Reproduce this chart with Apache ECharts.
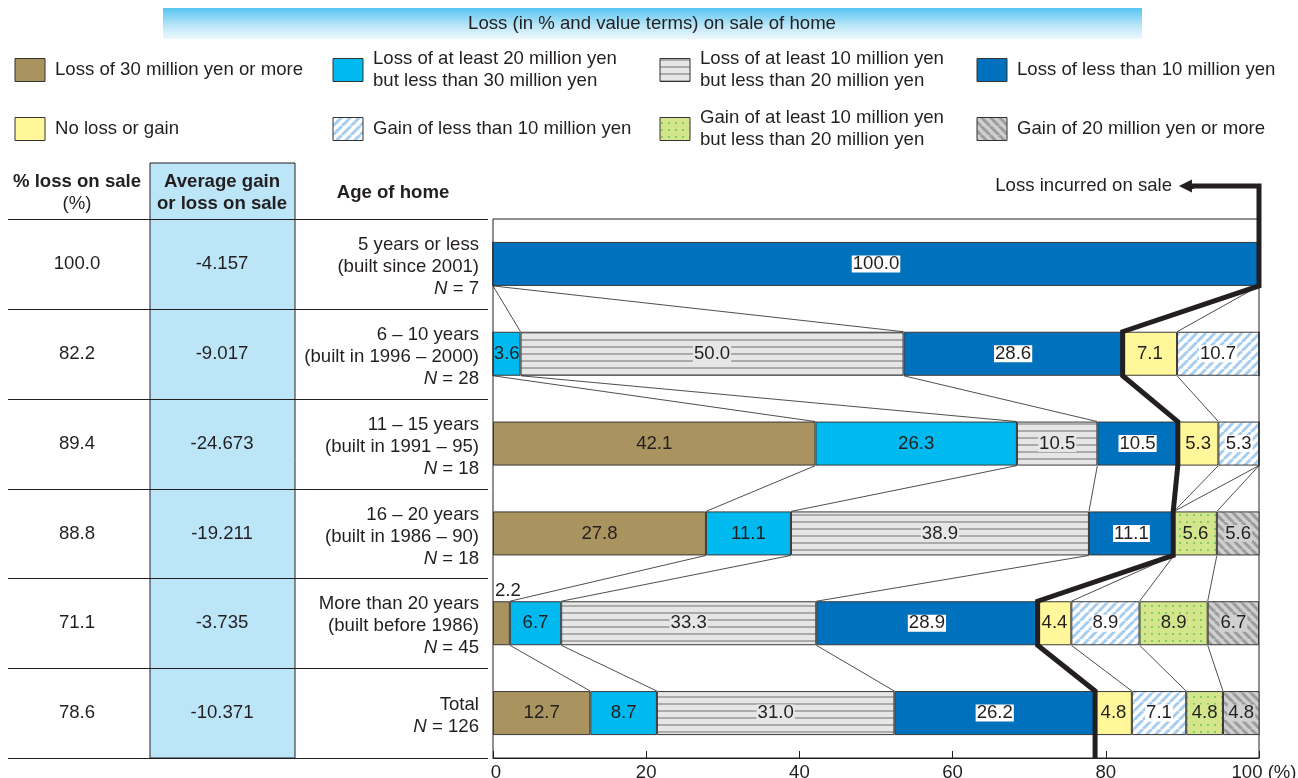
<!DOCTYPE html>
<html><head><meta charset="utf-8">
<script src="https://cdn.jsdelivr.net/npm/echarts@6/dist/echarts.min.js"></script>
<style>html,body{margin:0;padding:0;background:#fff}#c{width:1298px;height:778px}</style>
</head><body><div id="c"></div>
<script>
// ---------- data ----------
const ageCats = ['5 years or less', '6 – 10 years', '11 – 15 years', '16 – 20 years', 'More than 20 years', 'Total'];
const builtNotes = ['(built since 2001)', '(built in 1996 – 2000)', '(built in 1991 – 95)', '(built in 1986 – 90)', '(built before 1986)', ''];
const sampleN = [7, 28, 18, 18, 45, 126];
const lossPct = [100.0, 82.2, 89.4, 88.8, 71.1, 78.6];
const avgGainLoss = [-4.157, -9.017, -24.673, -19.211, -3.735, -10.371];

const loss30plus   = [0, 0, 42.1, 27.8, 2.2, 12.7];
const loss20to30   = [0, 3.6, 26.3, 11.1, 6.7, 8.7];
const loss10to20   = [0, 50.0, 10.5, 38.9, 33.3, 31.0];
const lossUnder10  = [100.0, 28.6, 10.5, 11.1, 28.9, 26.2];
const noLossGain   = [0, 7.1, 5.3, 0, 4.4, 4.8];
const gainUnder10  = [0, 10.7, 5.3, 0, 8.9, 7.1];
const gain10to20   = [0, 0, 0, 5.6, 8.9, 4.8];
const gain20plus   = [0, 0, 0, 5.6, 6.7, 4.8];

const legendNames = [
  'Loss of 30 million yen or more',
  'Loss of at least 20 million yen\nbut less than 30 million yen',
  'Loss of at least 10 million yen\nbut less than 20 million yen',
  'Loss of less than 10 million yen',
  'No loss or gain',
  'Gain of less than 10 million yen',
  'Gain of at least 10 million yen\nbut less than 20 million yen',
  'Gain of 20 million yen or more'
];
const xTicks = [0, 20, 40, 60, 80, 100];
const titleText = 'Loss (in % and value terms) on sale of home';

// ---------- styling helpers ----------
const FONT = '"Liberation Sans", Arial, sans-serif';
const FS = 18.6;
const INK = '#231f20';
function pat(w, h, bg, draw) {
  const c = document.createElement('canvas'); c.width = w; c.height = h;
  const g = c.getContext('2d'); g.fillStyle = bg; g.fillRect(0, 0, w, h); draw(g);
  return { image: c, repeat: 'repeat' };
}
const stripeGray = pat(8, 7, '#e6e6e6', g => { g.fillStyle = '#ababab'; g.fillRect(0, 3, 8, 2); });
const hatchBlue = pat(9, 9, '#ffffff', g => { g.strokeStyle = '#a6cdee'; g.lineWidth = 3; [-9, 0, 9].forEach(o => { g.beginPath(); g.moveTo(o, 9); g.lineTo(o + 9, 0); g.stroke(); }); });
const hatchGray = pat(9, 9, '#cfcfcf', g => { g.strokeStyle = '#9c9c9c'; g.lineWidth = 3; [-9, 0, 9].forEach(o => { g.beginPath(); g.moveTo(o, 0); g.lineTo(o + 9, 9); g.stroke(); }); });
const dotGreen = pat(7, 7, '#d4e68c', g => { g.fillStyle = '#86cb66'; g.fillRect(3, 3, 2, 2); });

const segData = [loss30plus, loss20to30, loss10to20, lossUnder10, noLossGain, gainUnder10, gain10to20, gain20plus];
const segFill = ['#a9935e', '#00b9ef', stripeGray, '#0071bc', '#fff799', hatchBlue, dotGreen, hatchGray];
const segLabelBg = [null, null, '#e6e6e6', '#ffffff', null, '#ffffff', '#d4e68c', '#d0d0d0'];

// ---------- geometry ----------
const G = { left: 493, right: 39, top: 219, bottom: 20 };
const band = (778 - G.top - G.bottom) / ageCats.length;
const half = 0.245; // half bar thickness in band units (barWidth 49%)

// cumulative boundaries
const cum = ageCats.map((_, i) => { let s = 0; return segData.map(arr => (s += arr[i])); });
const links = [];
for (let i = 0; i < ageCats.length - 1; i++) {
  for (let k = 0; k < segData.length - 1; k++) {
    const a = cum[i][k], b = cum[i + 1][k];
    if ((a <= 0 && b <= 0) || (a >= 100 && b >= 100)) continue;
    links.push({ coords: [[a, i + 0.5 + half], [b, i + 1.5 - half]] });
  }
}
const arrowY = (186 - G.top) / band;
const lossLine = [[91, arrowY], [100, arrowY]];
lossPct.forEach((v, i) => { lossLine.push([v, i + 0.5 - half]); lossLine.push([v, i + 0.5 + half]); });
lossLine.push([lossPct[lossPct.length - 1], ageCats.length]);

const barSeries = segData.map((arr, s) => ({
  type: 'bar', name: legendNames[s].replace('\n', ' '), stack: 'all', barWidth: '49%',
  xAxisIndex: 0, yAxisIndex: 0, silent: true,
  itemStyle: { color: segFill[s], borderColor: '#3a3a3a', borderWidth: 1 },
  label: {
    show: true, position: 'inside', color: INK, fontSize: FS, fontFamily: FONT, lineHeight: 16,
    backgroundColor: segLabelBg[s] || 'transparent', padding: [1, 1, 0, 1],
    formatter: p => (p.value ? p.value.toFixed(1) : '')
  },
  data: arr.map(v => {
    if (!v) return { value: v, label: { show: false } };
    if (v < 3) return { value: v, label: { position: [1, -19], backgroundColor: 'transparent' } };
    return v;
  })
}));

// ---------- graphic (header, legend, table) ----------
const graphic = [];
graphic.push({ type: 'rect', shape: { x: 163, y: 8, width: 979, height: 31 },
  style: { fill: new echarts.graphic.LinearGradient(0, 0, 0, 1, [{ offset: 0, color: '#55c5f0' }, { offset: 0.55, color: '#b8e5f8' }, { offset: 1, color: '#edf8fd' }]) } });
graphic.push({ type: 'text', style: { text: titleText, x: 652, y: 24, align: 'center', verticalAlign: 'middle', font: FS + 'px ' + FONT, fill: INK } });
const lx = [15, 333, 660, 977], ly = [70, 129];
legendNames.forEach((n, i) => {
  const x = lx[i % 4], cy = ly[Math.floor(i / 4)];
  graphic.push({ type: 'rect', shape: { x: x, y: cy - 11.5, width: 30, height: 23 }, style: { fill: segFill[i], stroke: '#333', lineWidth: 1 } });
  graphic.push({ type: 'text', style: { text: n, x: x + 40, y: cy, align: 'left', verticalAlign: 'middle', font: FS + 'px ' + FONT, lineHeight: 22, fill: INK } });
});
// table
graphic.push({ type: 'rect', z: -1, shape: { x: 150, y: 163, width: 145, height: 778 - G.bottom - 163 }, style: { fill: '#bde5f8', stroke: INK, lineWidth: 1 } });
for (let k = 0; k <= ageCats.length; k++) {
  const y = Math.round(G.top + k * band) + 0.5;
  graphic.push({ type: 'line', shape: { x1: 8, y1: y, x2: 488, y2: y }, style: { stroke: INK, lineWidth: 1 } });
}
graphic.push({ type: 'text', style: { text: '% loss on sale', x: 77, y: 182, align: 'center', verticalAlign: 'middle', font: 'bold ' + FS + 'px ' + FONT, fill: INK } });
graphic.push({ type: 'text', style: { text: '(%)', x: 77, y: 204, align: 'center', verticalAlign: 'middle', font: FS + 'px ' + FONT, fill: INK } });
graphic.push({ type: 'text', style: { text: 'Average gain\nor loss on sale', x: 222, y: 193, align: 'center', verticalAlign: 'middle', lineHeight: 22, font: 'bold ' + FS + 'px ' + FONT, fill: INK } });
graphic.push({ type: 'text', style: { text: 'Age of home', x: 393, y: 193, align: 'center', verticalAlign: 'middle', font: 'bold ' + FS + 'px ' + FONT, fill: INK } });
graphic.push({ type: 'text', style: { text: 'Loss incurred on sale', x: 1172, y: 186, align: 'right', verticalAlign: 'middle', font: FS + 'px ' + FONT, fill: INK } });

const option = {
  animation: false,
  textStyle: { fontFamily: FONT, color: INK },
  grid: { left: G.left, right: G.right, top: G.top, bottom: G.bottom, show: true, borderColor: INK, borderWidth: 1, backgroundColor: 'transparent', outerBoundsMode: 'none', containLabel: false },
  xAxis: [{
    type: 'value', position: 'bottom', min: xTicks[0], max: xTicks[xTicks.length - 1], interval: 20, z: 5,
    axisLine: { show: true, onZero: false, lineStyle: { color: INK } },
    axisTick: { show: true, inside: true, length: 7, lineStyle: { color: INK, width: 1 } },
    splitLine: { show: false },
    axisLabel: { margin: 5, fontSize: FS, color: INK, fontFamily: FONT,
      formatter: v => (v === 100 ? '{e|100 (%)}' : v === 0 ? '{s|0}' : String(v)),
      rich: { e: { fontSize: FS, color: INK, fontFamily: FONT, padding: [0, 0, 0, 10] }, s: { fontSize: FS, color: INK, fontFamily: FONT, padding: [0, 0, 0, 6] } } }
  }],
  yAxis: [
    { type: 'category', data: ageCats, inverse: true, position: 'left',
      axisLine: { show: false, onZero: false }, axisTick: { show: false }, splitLine: { show: false },
      axisLabel: { interval: 0, margin: 14, fontSize: FS, lineHeight: 22, color: INK, fontFamily: FONT, align: 'right', padding: [6, 0, 0, 0],
        formatter: (v, i) => [v, builtNotes[i], '{it|N} = ' + sampleN[i]].filter(Boolean).join('\n'),
        rich: { it: { fontStyle: 'italic', fontSize: FS, lineHeight: 22, color: INK, fontFamily: FONT, align: 'right' } } } },
    { type: 'value', min: 0, max: ageCats.length, inverse: true, show: false, axisLine: { onZero: false } },
    { type: 'category', data: ageCats, inverse: true, position: 'left', offset: G.left - 77,
      axisLine: { show: false, onZero: false }, axisTick: { show: false }, splitLine: { show: false },
      axisLabel: { interval: 0, margin: 0, align: 'center', fontSize: FS, color: INK, fontFamily: FONT, formatter: (v, i) => lossPct[i].toFixed(1) } },
    { type: 'category', data: ageCats, inverse: true, position: 'left', offset: G.left - 222,
      axisLine: { show: false, onZero: false }, axisTick: { show: false }, splitLine: { show: false },
      axisLabel: { interval: 0, margin: 0, align: 'center', fontSize: FS, color: INK, fontFamily: FONT, formatter: (v, i) => avgGainLoss[i].toFixed(3) } }
  ],
  graphic: graphic,
  series: barSeries.concat([
    { type: 'lines', coordinateSystem: 'cartesian2d', xAxisIndex: 0, yAxisIndex: 1, silent: true, clip: false, z: 4,
      symbol: 'none', lineStyle: { color: INK, width: 0.8, opacity: 1 }, data: links },
    { type: 'line', xAxisIndex: 0, yAxisIndex: 1, silent: true, clip: false, z: 10, symbol: 'none', showSymbol: false,
      lineStyle: { color: INK, width: 5, join: 'miter', cap: 'butt' }, data: lossLine },
    { type: 'lines', coordinateSystem: 'cartesian2d', xAxisIndex: 0, yAxisIndex: 1, silent: true, clip: false, z: 10,
      symbol: ['none', 'triangle'], symbolSize: 13, lineStyle: { color: INK, width: 5, opacity: 1 },
      data: [{ coords: [[91.5, arrowY], [90.4, arrowY]] }] }
  ])
};
const chart = echarts.init(document.getElementById('c'), null, { renderer: 'canvas' });
chart.setOption(option);
</script>
</body></html>
